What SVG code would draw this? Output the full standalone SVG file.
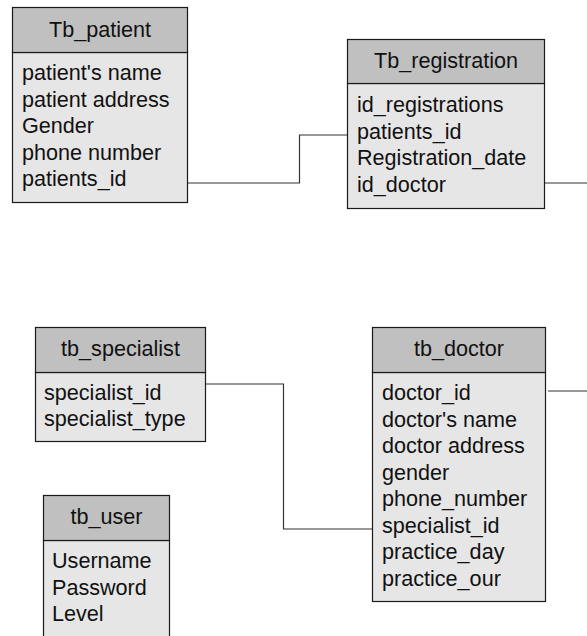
<svg xmlns="http://www.w3.org/2000/svg" width="587" height="636" viewBox="0 0 587 636">
<style>
.hd{fill:#c0c0c0;stroke:#1a1a1a;stroke-width:1.2}
.bd{fill:#e6e6e6;stroke:#1a1a1a;stroke-width:1.2}
text{font-family:"Liberation Sans",Arial,sans-serif;font-size:21.6px;fill:#111}
.c{text-anchor:middle}
.cn{fill:none;stroke:#333;stroke-width:1.2}
</style>
<rect width="587" height="636" fill="#fff"/>
<g id="connectors">
<polyline class="cn" points="187,183 299.5,183 299.5,135 347,135"/>
<polyline class="cn" points="544,183 587,183"/>
<polyline class="cn" points="203,384 283.5,384 283.5,529 373,529"/>
<polyline class="cn" points="548,391 587,391"/>
</g>
<g id="tb_patient">
<rect class="bd" x="12.5" y="52.5" width="175" height="150"/>
<rect class="hd" x="12.5" y="7.5" width="175" height="45"/>
<text class="c" x="100" y="37">Tb_patient</text>
<text x="22" y="80">patient's name</text>
<text x="22" y="106.5">patient address</text>
<text x="22" y="133">Gender</text>
<text x="22" y="159.5">phone number</text>
<text x="22" y="186">patients_id</text>
</g>
<g id="tb_registration">
<rect class="bd" x="347.5" y="83.5" width="197" height="125"/>
<rect class="hd" x="347.5" y="39.5" width="197" height="44"/>
<text class="c" x="446" y="68">Tb_registration</text>
<text x="357" y="112">id_registrations</text>
<text x="357" y="138.5">patients_id</text>
<text x="357" y="165">Registration_date</text>
<text x="357" y="191.5">id_doctor</text>
</g>
<g id="tb_specialist">
<rect class="bd" x="35.5" y="372.5" width="170" height="69"/>
<rect class="hd" x="35.5" y="327.5" width="170" height="45"/>
<text class="c" x="120.5" y="356">tb_specialist</text>
<text x="44" y="399.5">specialist_id</text>
<text x="44" y="426">specialist_type</text>
</g>
<g id="tb_doctor">
<rect class="bd" x="372.5" y="372.5" width="173" height="229"/>
<rect class="hd" x="372.5" y="327.5" width="173" height="45"/>
<text class="c" x="459" y="356">tb_doctor</text>
<text x="382" y="400">doctor_id</text>
<text x="382" y="426.5">doctor's name</text>
<text x="382" y="453">doctor address</text>
<text x="382" y="479.5">gender</text>
<text x="382" y="506">phone_number</text>
<text x="382" y="532.5">specialist_id</text>
<text x="382" y="559">practice_day</text>
<text x="382" y="585.5">practice_our</text>
</g>
<g id="tb_user">
<rect class="bd" x="43.5" y="540.5" width="126" height="110"/>
<rect class="hd" x="43.5" y="495.5" width="126" height="45"/>
<text class="c" x="106.5" y="524">tb_user</text>
<text x="52" y="568">Username</text>
<text x="52" y="594.5">Password</text>
<text x="52" y="621">Level</text>
</g>
</svg>
